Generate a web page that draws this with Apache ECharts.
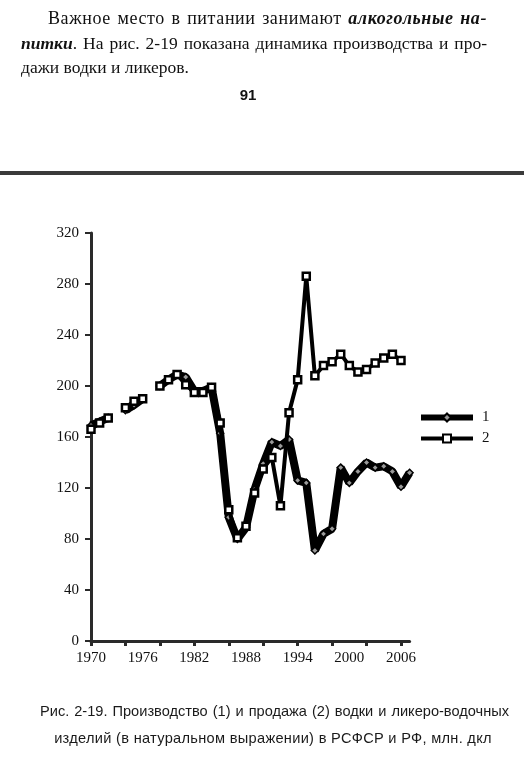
<!DOCTYPE html>
<html>
<head>
<meta charset="utf-8">
<script src="https://cdn.jsdelivr.net/npm/echarts@6/dist/echarts.min.js"></script>
<style>
  html, body { margin:0; padding:0; background:#fff; }
  #page { position:relative; width:524px; height:764px; overflow:hidden; background:#fff; }
  #chart { position:absolute; left:0; top:0; width:524px; height:764px; }
  .t { position:absolute; white-space:nowrap; color:#111; }
  .para { font-family:'Liberation Serif','DejaVu Serif',serif; font-size:17.5px; line-height:24px; }
  .just { text-align:justify; text-align-last:justify; }
  .cap { font-family:'Liberation Sans',Arial,sans-serif; font-size:14.6px; line-height:20px; color:#1a1a1a; }
</style>
</head>
<body>
<div id="page">
  <div id="chart"></div>
  <div class="t para just" style="left:48px;top:6px;width:439px;font-size:18px;letter-spacing:0.6px;">Важное место в питании занимают <b><i>алкогольные на-</i></b></div>
  <div class="t para just" style="left:21px;top:31px;width:466px;"><b><i>питки</i></b>. На рис. 2-19 показана динамика производства и про-</div>
  <div class="t para" style="left:21px;top:55px;">дажи водки и ликеров.</div>
  <div class="t" style="left:218px;top:86px;width:60px;text-align:center;font-family:'Liberation Sans',Arial,sans-serif;font-weight:bold;font-size:15px;line-height:18px;">91</div>
  <div style="position:absolute;left:0;top:171px;width:524px;height:4px;background:#3a3a3a;"></div>
  <div class="t cap just" style="left:40px;top:701px;width:469px;">Рис. 2-19. Производство (1) и продажа (2) водки и ликеро-водочных</div>
  <div class="t cap" style="left:40px;top:728px;width:466px;text-align:center;letter-spacing:0.3px;">изделий (в натуральном выражении) в РСФСР и РФ, млн. дкл</div>
</div>
<script>
// Data
const years = [1970,1971,1972,1973,1974,1975,1976,1977,1978,1979,1980,1981,1982,1983,1984,1985,1986,1987,1988,1989,1990,1991,1992,1993,1994,1995,1996,1997,1998,1999,2000,2001,2002,2003,2004,2005,2006,2007];
const production = [169,172,175,null,181,185,190,null,200,205,209,207,196,196,199,163,97,80,89,119,139,156,153,158,126,124,71,84,88,136,124,133,140,136,137,133,121,132];
const sales = [166,171,175,null,183,188,190,null,200,205,209,201,195,195,199,171,103,81,90,116,135,144,106,179,205,286,208,216,219,225,216,211,213,218,222,225,220,null];
const seriesNames = ['1','2'];
const yMin = 0, yMax = 320, yStep = 40;

const chart = echarts.init(document.getElementById('chart'), null, {renderer:'canvas'});
const axisFont = {fontFamily:'Liberation Serif', fontSize:15, color:'#111'};
chart.setOption({
  animation:false,
  backgroundColor:'transparent',
  grid:{left:91, top:233, width:318.6, height:408, containLabel:false},
  legend:{
    data:[
      {name:seriesNames[0], lineStyle:{width:6, color:'#000'}},
      {name:seriesNames[1], lineStyle:{width:4, color:'#000'}}
    ],
    orient:'vertical', left:413, top:405, itemWidth:52, itemHeight:10, itemGap:6,
    textStyle:{fontFamily:'Liberation Serif', fontSize:15, color:'#111', padding:[0,0,0,4]}
  },
  xAxis:{
    type:'category', data:years.map(String), boundaryGap:false,
    axisLine:{lineStyle:{color:'#2a2a2a', width:3}},
    axisTick:{interval:3, length:5, lineStyle:{color:'#2a2a2a', width:3}},
    axisLabel:{interval:5, margin:10, ...axisFont},
    splitLine:{show:false}
  },
  yAxis:{
    type:'value', min:yMin, max:yMax, interval:yStep,
    axisLine:{show:true, lineStyle:{color:'#2a2a2a', width:3}},
    axisTick:{show:true, length:6, lineStyle:{color:'#2a2a2a', width:2}},
    axisLabel:{margin:12, ...axisFont},
    splitLine:{show:false}
  },
  series:[
    {name:seriesNames[0], type:'line', data:production, connectNulls:false, z:2,
     symbol:'diamond', symbolSize:7, showAllSymbol:true,
     lineStyle:{color:'#000', width:8},
     itemStyle:{color:'#999', borderColor:'#000', borderWidth:1.5}},
    {name:seriesNames[1], type:'line', data:sales, connectNulls:false, z:3,
     symbol:'rect', symbolSize:7, showAllSymbol:true,
     lineStyle:{color:'#000', width:4},
     itemStyle:{color:'#fff', borderColor:'#000', borderWidth:2.5}}
  ]
});
</script>
</body>
</html>
